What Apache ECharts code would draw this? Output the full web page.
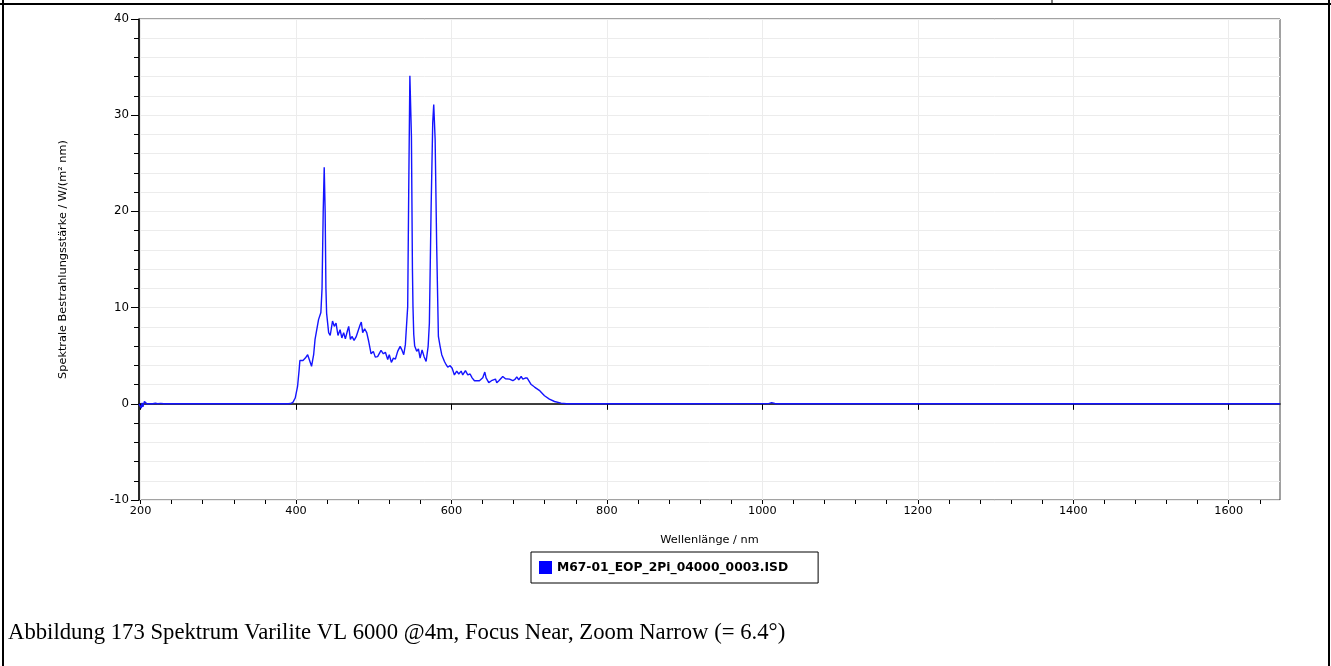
<!DOCTYPE html>
<html>
<head>
<meta charset="utf-8">
<title>Spektrum Varilite VL 6000</title>
<script src="https://cdn.jsdelivr.net/npm/echarts@6/dist/echarts.min.js"></script>
<style>
    html, body { margin: 0; padding: 0; background: #fff; }
    #main { width: 1331px; height: 666px; }
</style>
</head>
<body>
<div id="main"></div>
<script>
// Wellenlänge in nm
var wavelengths = [
    198, 200, 201, 202, 203, 204, 205, 206, 207, 208, 210, 212, 214, 216, 219, 222, 226, 230,
    300, 390, 393, 396, 399, 402, 404, 405, 409, 412, 415, 417, 420, 422.7, 424.5, 427, 429, 432,
    433.5, 435, 436.3, 437.5, 438.5, 439.4, 442, 444, 447, 449.3, 451.5, 454, 456.7, 459, 461.3,
    463.5, 466.5, 467.8, 470, 472, 474.7, 477.3, 479.8, 482.4, 484, 485.8, 488.3, 491, 493.5,
    496.6, 499.5, 502, 505, 509.4, 512.4, 515, 518, 520, 522.7, 525.3, 527.9, 530.8, 534, 536.5,
    538.6, 540.7, 542.4, 543.7, 545, 546.5, 548.5, 549.8, 550.5, 551.5, 552.7, 555.3, 557.5,
    559.7, 562.2, 564.8, 567.4, 570, 571.6, 573.8, 575.9, 577.2, 579, 581, 583.2, 585.4, 587.5,
    591, 593.2, 595.2, 598.3, 600.9, 603.8, 606.8, 609.4, 612.5, 614.5, 618, 621, 624, 626.6,
    629.6, 636, 640.3, 642.9, 644.6, 648, 651.5, 654, 656.6, 658.3, 661, 663, 666, 669.5, 674.7,
    679, 682, 684, 686.6, 689.7, 691.8, 694.9, 697.5, 699, 702.6, 706.9, 713, 719.7, 726, 732.6,
    741, 748, 900, 1008, 1012, 1016, 1020, 1400, 1666
];
// Spektrale Bestrahlungsstärke in W/(m² nm)
var irradiance = [
    0, -0.1, -0.45, 0.1, -0.3, -0.2, 0.25, 0.15, 0.2, 0, 0.1, 0, 0.08, 0, 0.06, 0, 0.05, 0,
    0, 0, 0.03, 0.15, 0.6, 1.8, 3.5, 4.5, 4.5, 4.75, 5.1, 5.3, 3.9, 5.1, 6.7, 6.7, 8.75, 9.5,
    12, 20, 24.6, 20, 12, 9.4, 7.4, 7.1, 8.6, 8.05, 8.4, 7.1, 7.7, 6.85, 7.4,
    6.75, 7.7, 8.05, 6.7, 7.0, 6.6, 6.95, 6.75, 8.2, 8.5, 7.4, 7.8, 7.4, 6.5,
    5.2, 5.45, 4.85, 4.9, 5.55, 5.2, 5.35, 4.6, 5.1, 4.3, 4.75, 4.65, 5.45, 5.97, 5.55,
    5.1, 6.15, 6.1, 10.1, 22, 34.1, 27.8, 14, 10.1, 7.2, 6.0, 5.45, 5.7,
    4.75, 5.6, 4.9, 4.4, 5.97, 8.4, 20.2, 29.2, 31.1, 27.5, 16.4, 7.0, 5.97, 5.1,
    4.4, 4.06, 3.8, 3.96, 3.7, 3.0, 3.4, 3.1, 3.4, 3.0, 3.44, 3.0, 3.1, 2.7,
    2.4, 2.4, 2.7, 3.3, 2.7, 2.2, 2.4, 2.2, 2.57, 2.2, 2.4, 2.57, 2.84, 2.6, 2.57,
    2.4, 2.57, 2.8, 2.5, 2.84, 2.57, 2.68, 2.68, 2.5, 2.0, 1.74, 1.4, 0.84, 0.49, 0.24,
    0.07, 0, 0, 0.02, 0.12, 0.03, 0, 0, 0
];
var xMajorTicks = [200, 400, 600, 800, 1000, 1200, 1400, 1600];
var yTicks = [-10, 0, 10, 20, 30, 40];
var seriesName = 'M67-01_EOP_2Pi_04000_0003.ISD';
var caption = 'Abbildung 173 Spektrum Varilite VL 6000 @4m, Focus Near, Zoom Narrow (= 6.4°)';

var xMin = 198, xMax = 1666;

// Nebenstriche alle 40 nm
var xMinorTicks = [];
for (var t = 200; t < xMax; t += 40) {
    xMinorTicks.push(t);
}

var points = wavelengths.map(function (w, i) {
    return [w, irradiance[i]];
});

var labelFont = 'DejaVu Sans';
var gridColor = '#ececec';

var myChart = echarts.init(document.getElementById('main'));
var option = {
    animation: false,
    backgroundColor: '#fff',
    textStyle: { fontFamily: labelFont },
    title: {
        text: caption,
        left: 8,
        top: 622,
        padding: 0,
        textStyle: { fontFamily: 'Liberation Serif', fontSize: 22.7, fontWeight: 'normal', color: '#000' }
    },
    legend: {
        data: [seriesName],
        left: 531,
        top: 552,
        padding: [9, 30, 9, 8],
        borderColor: '#000',
        borderWidth: 1,
        itemWidth: 13,
        itemHeight: 13,
        icon: 'rect',
        textStyle: { fontFamily: labelFont, fontSize: 12.3, fontWeight: 'bold', color: '#000' }
    },
    grid: {
        left: 139,
        right: 51,
        top: 19,
        bottom: 166,
        show: true,
        borderColor: '#444',
        borderWidth: 1,
        backgroundColor: '#fff'
    },
    xAxis: [{
        type: 'value',
        min: xMin,
        max: xMax,
        position: 'bottom',
        name: 'Wellenlänge / nm',
        nameLocation: 'middle',
        nameGap: 35,
        nameTextStyle: { fontFamily: labelFont, fontSize: 11.3, color: '#000' },
        axisLine: { show: true, lineStyle: { color: '#000', width: 1.5 } },
        axisTick: { show: true, length: 6, customValues: xMajorTicks, lineStyle: { color: '#000' } },
        axisLabel: {
            customValues: xMajorTicks,
            color: '#000',
            fontSize: 11.3,
            margin: 6,
            formatter: function (v) { return String(v); }
        },
        splitLine: { show: true, lineStyle: { color: gridColor } }
    }, {
        type: 'value',
        min: xMin,
        max: xMax,
        position: 'bottom',
        axisLine: { show: false },
        axisTick: { show: true, length: 4, customValues: xMinorTicks, lineStyle: { color: '#000' } },
        axisLabel: { show: false },
        splitLine: { show: false }
    }],
    yAxis: {
        type: 'value',
        min: -10,
        max: 40,
        interval: 10,
        name: 'Spektrale Bestrahlungsstärke / W/(m² nm)',
        nameLocation: 'middle',
        nameGap: 70,
        nameTextStyle: { fontFamily: labelFont, fontSize: 11.3, color: '#000' },
        axisLine: { show: true, lineStyle: { color: '#000', width: 1.5 } },
        axisTick: { show: true, length: 8, customValues: yTicks, lineStyle: { color: '#000' } },
        minorTick: { show: true, splitNumber: 5, length: 5, lineStyle: { color: '#000' } },
        axisLabel: { color: '#000', fontSize: 11.8, margin: 10 },
        splitLine: { show: true, lineStyle: { color: gridColor } },
        minorSplitLine: { show: true, lineStyle: { color: gridColor } }
    },
    series: [{
        name: seriesName,
        type: 'line',
        xAxisIndex: 0,
        data: points,
        showSymbol: false,
        symbol: 'none',
        color: '#0000ff',
        lineStyle: { color: '#1414ff', width: 1.4 }
    }],
    // Rahmen der Dokumenttabelle
    graphic: [
        { type: 'line', shape: { x1: 0, y1: 4, x2: 1331, y2: 4 }, style: { stroke: '#000', lineWidth: 2 } },
        { type: 'line', shape: { x1: 1052, y1: 0, x2: 1052, y2: 4 }, style: { stroke: '#000', lineWidth: 1 } },
        { type: 'line', shape: { x1: 3, y1: 0, x2: 3, y2: 666 }, style: { stroke: '#000', lineWidth: 2 } },
        { type: 'line', shape: { x1: 1329, y1: 0, x2: 1329, y2: 666 }, style: { stroke: '#000', lineWidth: 2 } }
    ]
};
myChart.setOption(option);
</script>
</body>
</html>
